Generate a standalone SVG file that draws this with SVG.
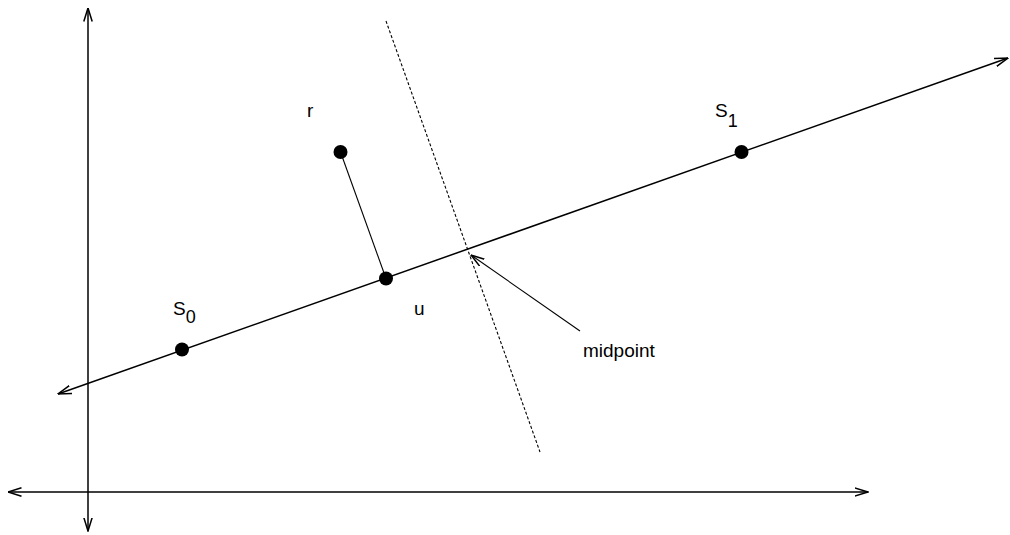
<svg xmlns="http://www.w3.org/2000/svg" width="1010" height="535" viewBox="0 0 1010 535">
<style>
.ln{stroke:#000;stroke-width:1.5;fill:none}
.thin{stroke:#000;stroke-width:1.1;fill:none}
.dash{stroke:#000;stroke-width:1.1;fill:none;stroke-dasharray:3 2}
.dot{fill:#000}
.lbl{font-family:"Liberation Sans",Arial,sans-serif;font-size:19px;fill:#000}
.sub{font-size:18px}
</style>
<defs>
<marker id="arr" viewBox="0 0 14 10" refX="13.5" refY="5" markerWidth="14" markerHeight="10" markerUnits="userSpaceOnUse" orient="auto-start-reverse">
<path d="M0,0.8 L13.5,5 L0,9.2" fill="none" stroke="#000" stroke-width="1.5"/>
</marker>
</defs>
<rect width="1010" height="535" fill="#fff"/>
<g id="connectors">
<line id="y-axis" class="ln" x1="88" y1="8" x2="88" y2="531" marker-start="url(#arr)" marker-end="url(#arr)"/>
<line id="x-axis" class="ln" x1="8" y1="492" x2="868" y2="492" marker-start="url(#arr)" marker-end="url(#arr)"/>
<line id="main-line" class="ln" x1="58" y1="394" x2="1008" y2="58" marker-start="url(#arr)" marker-end="url(#arr)"/>
<line id="bisector" class="dash" x1="386" y1="21" x2="540" y2="452"/>
<line id="r-u" class="thin" x1="340.5" y1="152" x2="386" y2="278.5"/>
<line id="midpoint-arrow" class="thin" x1="580" y1="331" x2="471" y2="255" marker-end="url(#arr)"/>
</g>
<g id="s0">
<circle class="dot" cx="182" cy="349.5" r="7"/>
<text class="lbl" x="173" y="315">S<tspan class="sub" dy="8">0</tspan></text>
</g>
<g id="s1">
<circle class="dot" cx="741.5" cy="152" r="7"/>
<text class="lbl" x="715" y="117">S<tspan class="sub" dy="10">1</tspan></text>
</g>
<g id="r">
<circle class="dot" cx="340.5" cy="152" r="7"/>
<text class="lbl" x="307" y="117">r</text>
</g>
<g id="u">
<circle class="dot" cx="386" cy="278.5" r="7"/>
<text class="lbl" x="414" y="315">u</text>
</g>
<g id="midpoint">
<text class="lbl" x="583" y="357">midpoint</text>
</g>
</svg>
